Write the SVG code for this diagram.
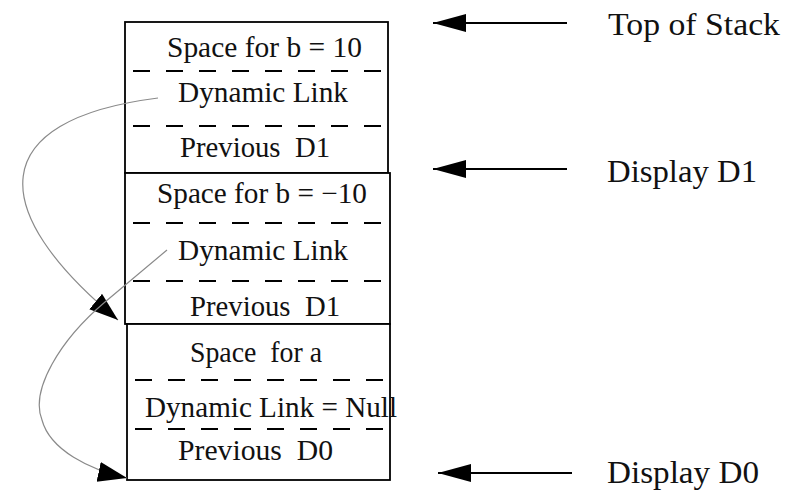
<svg xmlns="http://www.w3.org/2000/svg" width="801" height="491" viewBox="0 0 801 491">
<style>
.frame{fill:#fff;stroke:#000;stroke-width:1.8}
.dash{stroke:#000;stroke-width:1.8;stroke-dasharray:17 16;fill:none}
.lbl{font-family:"Liberation Serif","Times New Roman",serif;font-size:29px;fill:#111}
.side{font-family:"Liberation Serif","Times New Roman",serif;font-size:32px;fill:#111}
.ptr{stroke:#000;stroke-width:2;fill:none}
.link{stroke:#8a8a8a;stroke-width:1.2;fill:none}
</style>
<defs>
<marker id="bigArrow" markerUnits="userSpaceOnUse" markerWidth="36" markerHeight="20" refX="33" refY="9" orient="auto">
<path d="M0,0 L33,9 L0,18 Z" fill="#000"/>
</marker>
<marker id="linkArrow" markerUnits="userSpaceOnUse" markerWidth="32" markerHeight="22" refX="29" refY="10" orient="auto">
<path d="M0,0 L29,10 L0,20 Z" fill="#000"/>
</marker>
</defs>
<g id="frame1">
<rect class="frame" x="125" y="22" width="263" height="151"/>
<line class="dash" x1="125" y1="71" x2="388" y2="71" stroke-dashoffset="-8"/>
<line class="dash" x1="125" y1="126" x2="388" y2="126" stroke-dashoffset="-8"/>
<text class="lbl" x="167" y="57" textLength="195" lengthAdjust="spacingAndGlyphs">Space for b = 10</text>
<text class="lbl" x="178" y="102" textLength="170" lengthAdjust="spacingAndGlyphs">Dynamic Link</text>
<text class="lbl" x="180" y="157" textLength="150" lengthAdjust="spacingAndGlyphs" xml:space="preserve">Previous  D1</text>
</g>
<g id="frame2">
<rect class="frame" x="125" y="173" width="265" height="151"/>
<line class="dash" x1="125" y1="223" x2="390" y2="223" stroke-dashoffset="-8"/>
<line class="dash" x1="125" y1="281" x2="390" y2="281" stroke-dashoffset="-8"/>
<text class="lbl" x="157" y="203" textLength="210" lengthAdjust="spacingAndGlyphs">Space for b = −10</text>
<text class="lbl" x="178" y="260" textLength="170" lengthAdjust="spacingAndGlyphs">Dynamic Link</text>
<text class="lbl" x="190" y="316" textLength="150" lengthAdjust="spacingAndGlyphs" xml:space="preserve">Previous  D1</text>
</g>
<g id="frame3">
<rect class="frame" x="127" y="324" width="263" height="156"/>
<line class="dash" x1="127" y1="380" x2="390" y2="380" stroke-dashoffset="-8"/>
<line class="dash" x1="127" y1="429" x2="390" y2="429" stroke-dashoffset="-8"/>
<text class="lbl" x="190" y="362" textLength="132" lengthAdjust="spacingAndGlyphs" xml:space="preserve">Space  for a</text>
<text class="lbl" x="145" y="417" textLength="252" lengthAdjust="spacingAndGlyphs">Dynamic Link = Null</text>
<text class="lbl" x="178" y="460" textLength="155" lengthAdjust="spacingAndGlyphs" xml:space="preserve">Previous  D0</text>
</g>
<g id="label-top">
<text class="side" x="608" y="35" textLength="172" lengthAdjust="spacingAndGlyphs">Top of Stack</text>
</g>
<g id="label-d1">
<text class="side" x="607" y="182" textLength="150" lengthAdjust="spacingAndGlyphs">Display D1</text>
</g>
<g id="label-d0">
<text class="side" x="607" y="483" textLength="152" lengthAdjust="spacingAndGlyphs">Display D0</text>
</g>
<g id="connectors">
<line class="ptr" x1="567" y1="23" x2="433" y2="23" marker-end="url(#bigArrow)"/>
<line class="ptr" x1="567" y1="169" x2="433" y2="169" marker-end="url(#bigArrow)"/>
<line class="ptr" x1="572" y1="473" x2="438" y2="473" marker-end="url(#bigArrow)"/>
<path class="link" d="M158,98 C-15,120 -15,210 118,320" marker-end="url(#linkArrow)"/>
<path class="link" d="M167,250 L105,302 C60,340 30,390 42,420 C50,450 90,470 127,478" marker-end="url(#linkArrow)"/>
</g>
</svg>
